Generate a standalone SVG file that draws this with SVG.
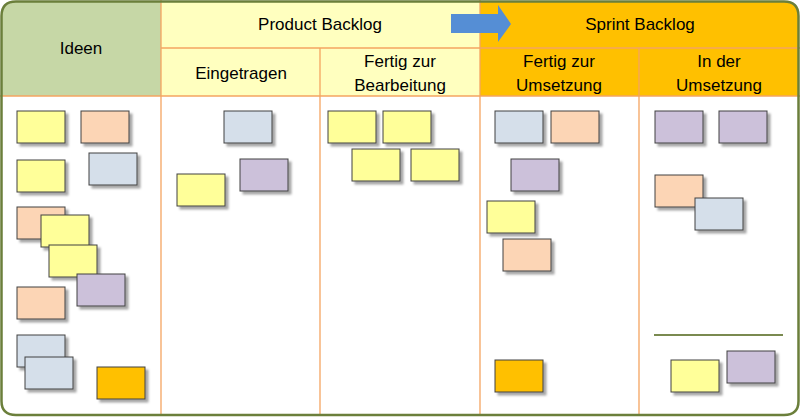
<svg xmlns="http://www.w3.org/2000/svg" width="800" height="417" viewBox="0 0 800 417">
<style>
.c{stroke:#404040;stroke-width:1;filter:url(#sh)}
.y{fill:#ffff99}.p{fill:#fcd5b5}.b{fill:#d5dfea}.v{fill:#ccc1da}.o{fill:#ffc000}
.t{font-family:"Liberation Sans",Arial,sans-serif;font-size:17px;fill:#000;text-anchor:middle}
.ln{stroke:#f4a460;stroke-width:1.3}
</style>
<defs>
<filter id="sh" x="-20%" y="-20%" width="150%" height="150%"><feDropShadow dx="3" dy="3" stdDeviation="1" flood-color="#000" flood-opacity="0.35"/></filter>
<clipPath id="cl"><path d="M16,1.5 H784 Q798.5,1.5 798.5,16 V401 Q798.5,415 784,415 H16 Q1.5,415 1.5,401 V16 Q1.5,1.5 16,1.5Z"/></clipPath>
</defs>
<g id="board">
<g clip-path="url(#cl)">
<rect x="0" y="0" width="800" height="417" fill="#fff"/>
<rect x="0" y="0" width="161" height="96" fill="#c6d7a6"/>
<rect x="161" y="0" width="319" height="96" fill="#ffffbf"/>
<rect x="480" y="0" width="320" height="96" fill="#ffc000"/>
</g>
<line class="ln" x1="161" y1="48" x2="800" y2="48"/>
<line class="ln" x1="0" y1="96" x2="800" y2="96"/>
<line class="ln" x1="161" y1="0" x2="161" y2="415"/>
<line class="ln" x1="320" y1="48" x2="320" y2="415"/>
<line class="ln" x1="480" y1="0" x2="480" y2="415" stroke="#d09060"/>
<line class="ln" x1="639" y1="48" x2="639" y2="415" stroke="#d09060"/>
<path d="M16,1.5 H784 Q798.5,1.5 798.5,16 V401 Q798.5,415 784,415 H16 Q1.5,415 1.5,401 V16 Q1.5,1.5 16,1.5Z" fill="none" stroke="#6b7f3b" stroke-width="2.5"/>
<line x1="654" y1="335" x2="783" y2="335" stroke="#7a8a50" stroke-width="2"/>
</g>
<g id="labels">
<text class="t" x="81" y="54">Ideen</text>
<text class="t" x="320" y="30">Product Backlog</text>
<text class="t" x="640" y="30">Sprint Backlog</text>
<text class="t" x="241" y="79">Eingetragen</text>
<text class="t" x="400" y="67">Fertig zur</text>
<text class="t" x="400" y="91">Bearbeitung</text>
<text class="t" x="559" y="67">Fertig zur</text>
<text class="t" x="559" y="91">Umsetzung</text>
<text class="t" x="719" y="67">In der</text>
<text class="t" x="719" y="91">Umsetzung</text>
</g>
<g id="arrow">
<polygon points="451,14 498,14 498,5 511,24 498,42 498,33 451,33" fill="#558ed5"/>
</g>
<g id="cards">
<rect class="c y" x="17" y="111" width="48" height="32"/>
<rect class="c p" x="81" y="111" width="48" height="32"/>
<rect class="c y" x="17" y="160" width="48" height="32"/>
<rect class="c b" x="89" y="153" width="48" height="32"/>
<rect class="c p" x="17" y="207" width="48" height="32"/>
<rect class="c y" x="41" y="215" width="48" height="32"/>
<rect class="c y" x="49" y="245" width="48" height="32"/>
<rect class="c v" x="77" y="274" width="48" height="32"/>
<rect class="c p" x="17" y="287" width="48" height="32"/>
<rect class="c b" x="17" y="335" width="48" height="32"/>
<rect class="c b" x="25" y="357" width="48" height="32"/>
<rect class="c o" x="97" y="367" width="48" height="32"/>
<rect class="c b" x="224" y="111" width="48" height="32"/>
<rect class="c v" x="240" y="159" width="48" height="32"/>
<rect class="c y" x="177" y="174" width="48" height="32"/>
<rect class="c y" x="328" y="111" width="48" height="32"/>
<rect class="c y" x="383" y="111" width="48" height="32"/>
<rect class="c y" x="352" y="149" width="48" height="32"/>
<rect class="c y" x="411" y="149" width="48" height="32"/>
<rect class="c b" x="495" y="111" width="48" height="32"/>
<rect class="c p" x="551" y="111" width="48" height="32"/>
<rect class="c v" x="511" y="159" width="48" height="32"/>
<rect class="c y" x="487" y="201" width="48" height="32"/>
<rect class="c p" x="503" y="239" width="48" height="32"/>
<rect class="c o" x="495" y="360" width="48" height="32"/>
<rect class="c v" x="655" y="111" width="48" height="32"/>
<rect class="c v" x="719" y="111" width="48" height="32"/>
<rect class="c p" x="655" y="175" width="48" height="32"/>
<rect class="c b" x="695" y="198" width="48" height="32"/>
<rect class="c y" x="671" y="360" width="48" height="32"/>
<rect class="c v" x="727" y="351" width="48" height="32"/>
</g>
</svg>
